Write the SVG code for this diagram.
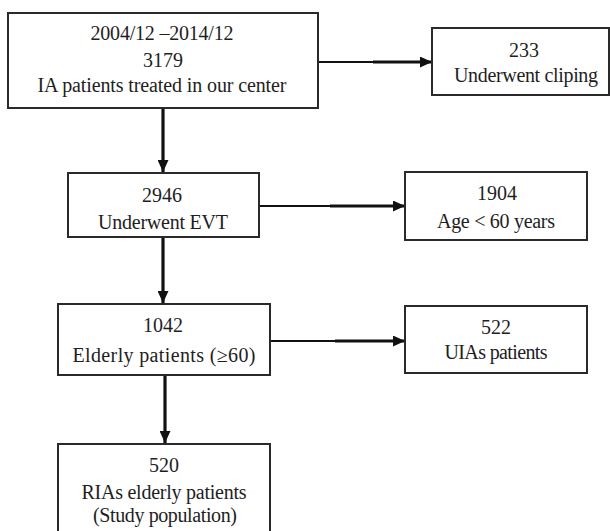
<svg xmlns="http://www.w3.org/2000/svg" width="610" height="531" viewBox="0 0 610 531">
<defs>
<style>
.box{fill:#fff;stroke:#2a2a2a;stroke-width:2}
.t{font-family:"Liberation Serif","Times New Roman",serif;font-size:20px;fill:#1e1e1e;text-anchor:middle}
.thin{stroke:#111;stroke-width:2;fill:none}
.thick{stroke:#111;stroke-width:3.2;fill:none}
</style>
<marker id="ah" viewBox="0 0 12 11" refX="12" refY="5.5" markerWidth="12" markerHeight="11" markerUnits="userSpaceOnUse" orient="auto">
<path d="M0,0 L12,5.5 L0,11 z" fill="#111"/>
</marker>
</defs>
<rect width="610" height="531" fill="#fff"/>
<g id="connectors">
<line class="thick" x1="163" y1="108" x2="163" y2="172" marker-end="url(#ah)"/>
<line class="thick" x1="163" y1="237" x2="163" y2="303" marker-end="url(#ah)"/>
<line class="thick" x1="165" y1="375" x2="165" y2="443" marker-end="url(#ah)"/>
<line class="thin" x1="318" y1="62" x2="374" y2="62"/>
<line class="thick" x1="373" y1="62" x2="432" y2="62" marker-end="url(#ah)"/>
<line class="thin" x1="259" y1="206" x2="331" y2="206"/>
<line class="thick" x1="330" y1="206" x2="405" y2="206" marker-end="url(#ah)"/>
<line class="thin" x1="270" y1="341" x2="336" y2="341"/>
<line class="thick" x1="335" y1="341" x2="405" y2="341" marker-end="url(#ah)"/>
</g>
<g id="n1">
<rect class="box" x="8" y="13" width="310" height="95"/>
<text class="t" x="162" y="40" textLength="143" lengthAdjust="spacing">2004/12 –2014/12</text>
<text class="t" x="163" y="67">3179</text>
<text class="t" x="162" y="92" textLength="249" lengthAdjust="spacing">IA patients  treated  in  our  center</text>
</g>
<g id="n2">
<rect class="box" x="432" y="28" width="177" height="67"/>
<text class="t" x="524" y="57">233</text>
<text class="t" x="526" y="82" textLength="144" lengthAdjust="spacing">Underwent  cliping</text>
</g>
<g id="n3">
<rect class="box" x="68" y="173" width="191" height="64"/>
<text class="t" x="162" y="202">2946</text>
<text class="t" x="163" y="229" textLength="130" lengthAdjust="spacing">Underwent  EVT</text>
</g>
<g id="n4">
<rect class="box" x="405" y="172" width="182" height="68"/>
<text class="t" x="497" y="200">1904</text>
<text class="t" x="496" y="228" textLength="118" lengthAdjust="spacing">Age &lt; 60 years</text>
</g>
<g id="n5">
<rect class="box" x="58" y="304" width="212" height="71"/>
<text class="t" x="163" y="332">1042</text>
<text class="t" x="164" y="362" textLength="183" lengthAdjust="spacing">Elderly  patients  (≥60)</text>
</g>
<g id="n6">
<rect class="box" x="405" y="306" width="182" height="67"/>
<text class="t" x="496" y="334">522</text>
<text class="t" x="496" y="359" textLength="103" lengthAdjust="spacing">UIAs patients</text>
</g>
<g id="n7">
<rect class="box" x="58" y="444" width="212" height="100"/>
<text class="t" x="164" y="472">520</text>
<text class="t" x="164" y="499" textLength="165" lengthAdjust="spacing">RIAs  elderly  patients</text>
<text class="t" x="165" y="522" textLength="144" lengthAdjust="spacing">(Study  population)</text>
</g>
</svg>
